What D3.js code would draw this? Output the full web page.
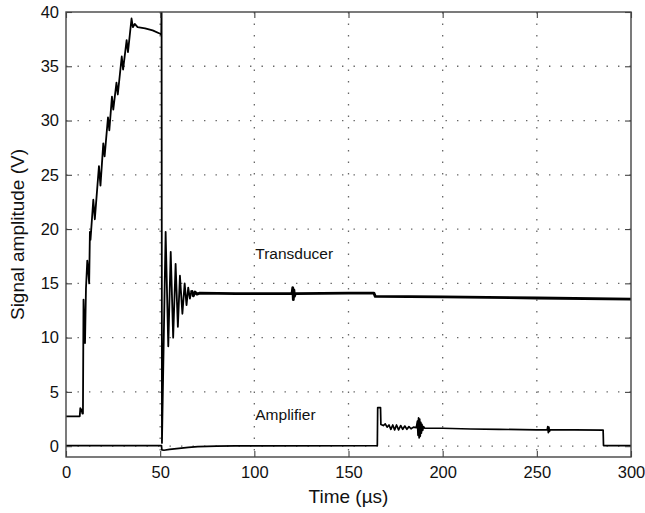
<!DOCTYPE html>
<html>
<head>
<meta charset="utf-8">
<script src="https://cdn.jsdelivr.net/npm/d3@7"></script>
<style>
  body { margin: 0; background: #fff; }
  text { font-family: "Liberation Sans", Arial, Helvetica, sans-serif; }
</style>
</head>
<body>
<svg id="chart" width="645" height="513"></svg>
<script>
// tick values
const xTicks = [0, 50, 100, 150, 200, 250, 300];
const yTicks = [0, 5, 10, 15, 20, 25, 30, 35, 40];

// transducer trace [time µs, volts]
const transducer = [
  [0, 2.75], [7.3, 2.75], [7.6, 3.5], [8.3, 3.3], [8.7, 3.0], [9.0, 3.0],
  [9.3, 13.5], [9.7, 11.0], [10.1, 9.5], [10.6, 14.5], [11.3, 17.1], [11.8, 16.2], [12.3, 15.0],
  [12.7, 19.75], [13.0, 19.0], [14.5, 22.7], [15.3, 20.9], [17.5, 25.8], [18.3, 24.0],
  [19.8, 27.9], [20.5, 26.7], [22.3, 30.3], [23.0, 29.1], [24.4, 32.2], [25.1, 31.0],
  [26.8, 33.5], [27.5, 32.4], [29.6, 35.9], [30.3, 34.7], [32.2, 37.4], [32.9, 36.3],
  [34.8, 39.4], [35.5, 38.6], [36.5, 38.9], [38, 38.6], [42, 38.5], [46, 38.3],
  [50, 38.0], [50.6, 37.9], [50.75, 41], [50.95, 0.3],
  [52.9, 19.75], [54.3, 9.2], [55.6, 17.9], [56.9, 10.0], [58.2, 16.8], [59.4, 11.0],
  [60.5, 15.7], [61.8, 12.2], [63.0, 15.0], [64.0, 13.0], [64.9, 14.6], [65.8, 13.6],
  [66.7, 14.35], [67.6, 13.85], [68.5, 14.2], [69.5, 14.0], [71, 14.1], [90, 14.05],
  [120, 14.05], [120.4, 14.6], [120.7, 13.5], [121, 14.4], [121.3, 13.8], [121.8, 14.05],
  [150, 14.1], [163.5, 14.1], [164.2, 13.8], [200, 13.75], [250, 13.65], [300, 13.55]
];

// amplifier trace [time µs, volts]
const amplifier = [
  [0, 0.05], [50.7, 0.05], [50.9, -0.35], [52, -0.38], [55, -0.3], [60, -0.2],
  [65, -0.12], [70, -0.05], [80, 0.0], [90, 0.03], [165.3, 0.05], [165.5, 3.55],
  [167, 3.55], [167.2, 2.0], [168.5, 1.9], [169.5, 2.05], [170.5, 1.75], [171.5, 1.95],
  [172.5, 1.55], [173.5, 1.95], [174.5, 1.5], [175.5, 1.95], [176.6, 1.5], [177.7, 1.9],
  [178.8, 1.55], [179.9, 1.85], [181, 1.55], [182.1, 1.8], [183.2, 1.6], [184.5, 1.75],
  [186, 1.7], [186.6, 2.3], [186.9, 1.0], [187.2, 2.6], [187.5, 0.75], [187.8, 2.5],
  [188.1, 0.9], [188.4, 2.2], [188.7, 1.2], [189.0, 2.0], [189.4, 1.45], [189.8, 1.8],
  [190.5, 1.65], [200, 1.65], [215, 1.58], [230, 1.55], [250, 1.5], [255.5, 1.5],
  [255.8, 1.8], [256.1, 1.25], [256.4, 1.75], [256.7, 1.35], [257.1, 1.5], [270, 1.5],
  [285.2, 1.48], [285.4, 0.05], [300, 0.05]
];

const labels = [
  {text: "Transducer", t: 100.5, v: 17.2},
  {text: "Amplifier", t: 100.5, v: 2.4}
];

const x = d3.scaleLinear([0, 300], [66, 631]);
const y = d3.scaleLinear([-1, 40], [457, 12]);

const svg = d3.select("#chart");

svg.append("defs").append("clipPath").attr("id", "plot")
  .append("rect")
    .attr("x", x(0)).attr("y", y(40))
    .attr("width", x(300) - x(0)).attr("height", y(-1) - y(40));

// dotted grid
const grid = svg.append("g")
    .attr("stroke", "#666")
    .attr("stroke-width", 1.3)
    .attr("stroke-dasharray", "1.4,10.1");

grid.selectAll("line.v")
  .data(xTicks.filter(d => d > 0 && d < 300))
  .join("line")
    .attr("class", "v")
    .attr("x1", d => x(d)).attr("x2", d => x(d))
    .attr("y1", y(40)).attr("y2", y(-1));

grid.selectAll("line.h")
  .data(yTicks.filter(d => d < 40))
  .join("line")
    .attr("class", "h")
    .attr("x1", x(0)).attr("x2", x(300))
    .attr("y1", d => y(d)).attr("y2", d => y(d));

// traces
const line = d3.line().x(d => x(d[0])).y(d => y(d[1]));
const traces = svg.append("g")
    .attr("clip-path", "url(#plot)")
    .attr("fill", "none")
    .attr("stroke", "#000")
    .attr("stroke-linejoin", "round");

traces.append("path")
    .attr("stroke-width", 1.7)
    .attr("d", line(amplifier));

traces.append("path")
    .attr("stroke-width", 1.8)
    .attr("d", line(transducer.filter(d => d[0] <= 66.7)));

traces.append("path")
    .attr("stroke-width", 2.8)
    .attr("d", line(transducer.filter(d => d[0] >= 66.7)));

// axes, ticks pointing inward like the original
const axisStyle = g => g
  .call(g => g.select(".domain").remove())
  .call(g => g.selectAll(".tick line").attr("stroke", "#444").attr("stroke-width", 1.1))
  .call(g => g.selectAll(".tick text").attr("fill", "#111").attr("font-size", 16.5)
                .attr("font-family", "Liberation Sans, Arial, sans-serif"));

svg.append("g")
    .attr("transform", `translate(0,${y(-1)})`)
    .call(d3.axisBottom(x).tickValues(xTicks).tickSizeInner(-6).tickSizeOuter(0).tickPadding(9))
    .call(axisStyle);

svg.append("g")
    .attr("transform", `translate(0,${y(40)})`)
    .call(d3.axisTop(x).tickValues(xTicks).tickSizeInner(-6).tickSizeOuter(0).tickFormat(""))
    .call(axisStyle);

svg.append("g")
    .attr("transform", `translate(${x(0)},0)`)
    .call(d3.axisLeft(y).tickValues(yTicks).tickSizeInner(-6).tickSizeOuter(0).tickPadding(7))
    .call(axisStyle);

svg.append("g")
    .attr("transform", `translate(${x(300)},0)`)
    .call(d3.axisRight(y).tickValues(yTicks).tickSizeInner(-6).tickSizeOuter(0).tickFormat(""))
    .call(axisStyle);

// frame
svg.append("rect")
    .attr("x", x(0)).attr("y", y(40))
    .attr("width", x(300) - x(0)).attr("height", y(-1) - y(40))
    .attr("fill", "none")
    .attr("stroke", "#444")
    .attr("stroke-width", 1.4);

// trace labels
svg.append("g")
  .selectAll("text")
  .data(labels)
  .join("text")
    .attr("x", d => x(d.t))
    .attr("y", d => y(d.v))
    .attr("font-size", 15.5)
    .attr("fill", "#111")
    .text(d => d.text);

// axis titles
svg.append("text")
    .attr("x", (x(0) + x(300)) / 2)
    .attr("y", 503)
    .attr("text-anchor", "middle")
    .attr("font-size", 19)
    .attr("fill", "#111")
    .text("Time (µs)");

svg.append("text")
    .attr("transform", `translate(24,${(y(40) + y(-1)) / 2}) rotate(-90)`)
    .attr("text-anchor", "middle")
    .attr("font-size", 19)
    .attr("fill", "#111")
    .text("Signal amplitude (V)");
</script>
</body>
</html>
